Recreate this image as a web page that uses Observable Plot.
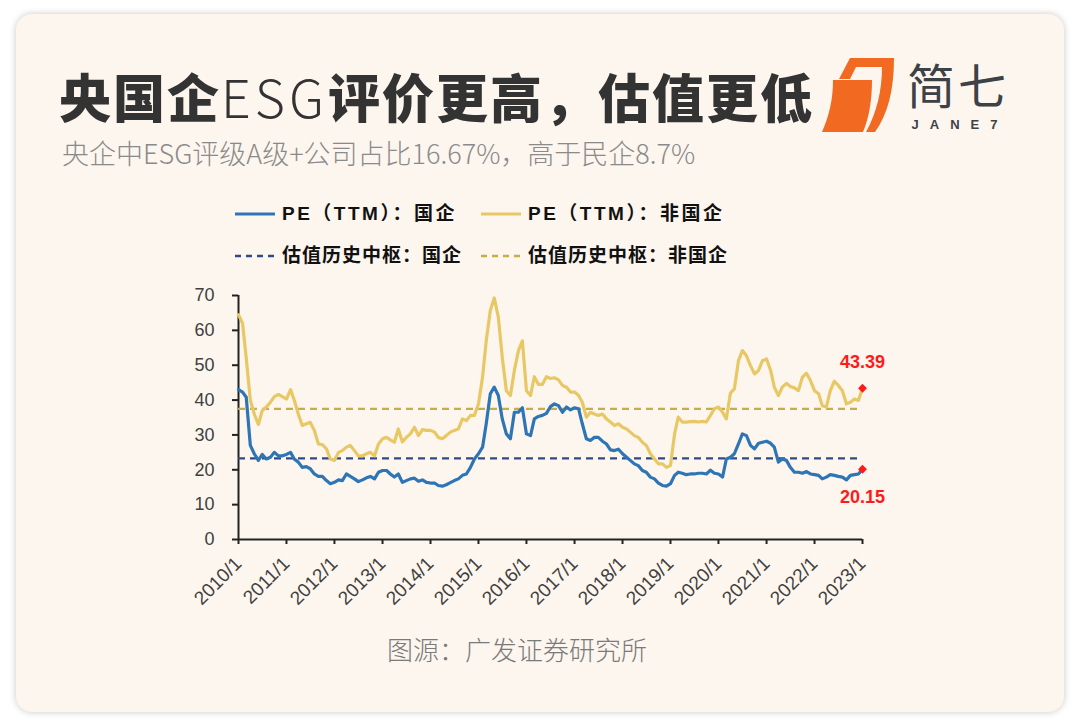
<!DOCTYPE html>
<html>
<head>
<meta charset="utf-8">
<script src="https://cdn.jsdelivr.net/npm/d3@7"></script>
<script src="https://cdn.jsdelivr.net/npm/@observablehq/plot@0.6"></script>
<style>
  html, body { margin:0; padding:0; background:#ffffff; }
  #page { position:relative; width:1080px; height:726px; overflow:hidden; font-family:"Noto Sans CJK SC","Noto Sans",sans-serif; }
  #card { position:absolute; left:16px; top:14px; width:1048px; height:698px; background:#fdf6ef; border-radius:16px; box-shadow:0 0 7px rgba(0,0,0,0.22); }
  .abs { position:absolute; white-space:nowrap; }
  #title { left:59px; top:61px; font-size:52px; font-weight:900; color:#333333; line-height:70px; letter-spacing:2px; }
  #title .lat { font-weight:300; letter-spacing:4px; }
  #subtitle { left:62px; top:135px; font-size:27px; font-weight:300; color:#8a8a8a; line-height:36px; }
  #caption { left:0; width:1034px; text-align:center; top:632px; font-size:26px; font-weight:300; color:#7a7a7a; line-height:34px; }
  .leg { font-family:"Liberation Sans","Noto Sans CJK SC",sans-serif; font-size:19px; font-weight:bold; color:#111; line-height:24px; }
  #chart { position:absolute; left:0; top:280px; }
</style>
</head>
<body>
<div id="page">
  <div id="card"></div>
  <div id="title" class="abs">央国企<span class="lat">ESG</span>评价更高，估值更低</div>
  <div id="subtitle" class="abs">央企中ESG评级A级+公司占比16.67%，高于民企8.7%</div>
  <svg class="abs" style="left:815px;top:44px" width="220" height="100" viewBox="815 44 220 100">
    <path d="M833,80 L872,80 C872,100 869,118 863,132 L822,132 C829,116 833,100 833,80 Z" fill="#f26a21"/>
    <path d="M839,79 L850,58 L894,58 C894,90 888,114 875,132 L866,132 C877,112 882,90 882,67 L856,67 L850,79 Z" fill="#f26a21"/>
    <text x="958" y="104" text-anchor="middle" font-family="Noto Sans CJK SC" font-size="48" font-weight="400" fill="#3d4247" letter-spacing="3">简七</text>
    <text x="960" y="129" text-anchor="middle" font-family="Liberation Sans" font-size="13" font-weight="bold" fill="#3d4247" letter-spacing="11">JANE7</text>
  </svg>
  <svg class="abs" style="left:0;top:0" width="1080" height="300">
    <line x1="235" x2="275" y1="214" y2="214" stroke="#2e75b6" stroke-width="3"/>
    <line x1="481" x2="521" y1="214" y2="214" stroke="#e8c865" stroke-width="3"/>
    <line x1="235" x2="275" y1="256" y2="256" stroke="#2f4a8a" stroke-width="2.5" stroke-dasharray="6,5"/>
    <line x1="481" x2="521" y1="256" y2="256" stroke="#c6ad45" stroke-width="2.5" stroke-dasharray="6,5"/>
  </svg>
  <div class="abs leg" style="left:282px;top:202px;letter-spacing:2.5px">PE（TTM）：国企</div>
  <div class="abs leg" style="left:528px;top:202px;letter-spacing:2.5px">PE（TTM）：非国企</div>
  <div class="abs leg" style="left:282px;top:244px;letter-spacing:1px">估值历史中枢：国企</div>
  <div class="abs leg" style="left:528px;top:244px;letter-spacing:1px">估值历史中枢：非国企</div>
  <div id="chart"></div>
  <div id="caption" class="abs">图源：广发证券研究所</div>
</div>
<script>
// Monthly PE(TTM), 2010/1 .. 2023/1
const startYear = 2010;
const peSOE = [
  43,42.3,40.8,27,24.6,22.7,24.4,23.1,23.6,25,24,24,
  24.4,25,23.1,22.2,20.7,20.9,20.3,18.8,18.1,18.1,16.9,16,
  16.4,17.1,16.9,18.8,18.1,17.4,16.6,17.1,17.7,18.1,17.4,19.3,
  19.8,19.8,18.8,17.9,18.8,16.4,16.9,17.4,17.6,16.7,17.1,16.4,
  16.2,16.2,15.5,15.3,15.7,16.3,16.9,17.4,18.4,18.8,20.7,23.1,
  24.6,26.5,33.2,41.8,43.7,41.3,34.6,30.3,28.9,36.5,36.5,37.8,
  30.3,29.8,34.6,35.3,35.6,36.2,38.1,38.9,38.4,36.5,38,37.2,
  37.8,37.5,33.2,28.9,28.4,29.3,29.3,28.2,27.4,25.7,25.5,25.9,
  24.6,23.6,22.7,21.7,21.2,19.8,19.3,17.9,17.4,16.2,15.5,15.3,
  16,18.4,19.3,19,18.6,18.8,18.8,19,19,18.8,19.9,19,
  18.8,17.9,23.1,23.6,24.6,27.4,30.3,29.8,27,26,27.6,27.9,
  28.2,27.6,26.5,22.2,23.1,22.7,20.7,19.3,19.3,19,19.5,18.8,
  18.6,18.4,17.4,17.9,18.6,18.4,18.1,17.9,17.1,18.4,18.6,18.8,
  20.15
];
const peNonSOE = [
  64.5,62,52,40,36,33,37,38,39.4,41,41.6,41,
  40.3,43,40,36,32.7,33.2,33.6,31.3,27.4,27.2,26,23.1,
  22.7,25,25.5,26.5,27,25.5,24,24,24.6,25,24,27.4,
  28.9,29.3,28.6,27.9,31.7,28,29.3,30.3,32.2,29.8,31.5,31.3,
  31.3,30.8,29.3,28.9,29.8,30.8,31.3,31.7,34.6,34.1,35.6,35.6,
  38.9,46.6,57,65.7,69.3,63.8,52.3,42.7,41.3,48.5,54.2,57,
  42.7,41.3,46.7,44.5,44.5,46.7,46.2,46.4,45.8,44.2,43.7,42.3,
  42.3,41.3,39.4,35.1,36.5,36,35.6,36,34.6,33.7,32.7,33.2,
  32.2,31.7,30.8,29.8,29.3,27.9,27,24.6,23.1,21.7,21.7,20.7,
  21.2,30.3,35.1,33.7,33.7,33.8,33.9,33.7,33.9,33.7,35.6,37.5,
  38,36.5,34.6,42,43.2,51.3,54.2,52.7,49.9,47.5,48.5,51.3,
  51.8,48.5,43.7,41.3,43.7,44.8,43.9,43.5,42.7,46.6,47.7,45.6,
  42.7,41.8,38.4,38,42.7,45.4,44.2,42.7,38.9,39.4,40.3,39.9,
  43.39
];
const centerSOE = 23.3;
const centerNonSOE = 37.5;
const xTickLabels = ["2010/1","2011/1","2012/1","2013/1","2014/1","2015/1","2016/1","2017/1","2018/1","2019/1","2020/1","2021/1","2022/1","2023/1"];
const yTicks = [0,10,20,30,40,50,60,70];

const dateOf = i => new Date(Date.UTC(startYear, i, 1));
const soeData = peSOE.map((v, i) => ({date: dateOf(i), v}));
const nonData = peNonSOE.map((v, i) => ({date: dateOf(i), v}));
const xTickDates = xTickLabels.map((s) => { const [y, m] = s.split("/").map(Number); return new Date(Date.UTC(y, m - 1, 1)); });
const x0 = xTickDates[0], x1 = xTickDates[xTickDates.length - 1];
const lastSOE = soeData[soeData.length - 1];
const lastNon = nonData[nonData.length - 1];

const chart = Plot.plot({
  width: 1080, height: 339,
  marginLeft: 238, marginRight: 218, marginTop: 15, marginBottom: 80,
  style: {background: "transparent", fontFamily: "'Liberation Sans', Arial, sans-serif", fontSize: "17px", color: "#404040"},
  x: {type: "utc", domain: [x0, x1]},
  y: {domain: [0, 70]},
  marks: [
    Plot.axisY({ticks: yTicks, tickSize: 6, tickPadding: 18, label: null, stroke: "#222", strokeWidth: 2, fontSize: 18, fill: "#404040"}),
    Plot.axisX({ticks: xTickDates, tickFormat: (d) => xTickLabels[xTickDates.findIndex(t => +t === +d)], tickRotate: -45, tickSize: 5, tickPadding: 16, label: null, stroke: "#222", strokeWidth: 2, fontSize: 19, fill: "#404040"}),
    Plot.ruleX([x0], {y1: 0, y2: 70, stroke: "#222", strokeWidth: 2}),
    Plot.ruleY([0], {x1: x0, x2: x1, stroke: "#222", strokeWidth: 2}),
    Plot.ruleY([centerNonSOE], {x1: x0, x2: x1, stroke: "#c6ad45", strokeWidth: 2.2, strokeDasharray: "7,5"}),
    Plot.ruleY([centerSOE], {x1: x0, x2: x1, stroke: "#2f4a8a", strokeWidth: 2.2, strokeDasharray: "7,5"}),
    Plot.lineY(nonData, {x: "date", y: "v", stroke: "#e8c865", strokeWidth: 3.2}),
    Plot.lineY(soeData, {x: "date", y: "v", stroke: "#2e75b6", strokeWidth: 3.2}),
    Plot.dot([lastNon, lastSOE], {x: "date", y: "v", r: 4, fill: "#ff1a1a", symbol: "diamond2", stroke: "none"}),
    Plot.text([lastNon], {x: "date", y: "v", text: d => d.v.toFixed(2), dy: -26, fill: "#ff1a1a", fontSize: 18, fontWeight: "bold"}),
    Plot.text([lastSOE], {x: "date", y: "v", text: d => d.v.toFixed(2), dy: 28, fill: "#ff1a1a", fontSize: 18, fontWeight: "bold"})
  ]
});
document.getElementById("chart").appendChild(chart);
</script>
</body>
</html>
